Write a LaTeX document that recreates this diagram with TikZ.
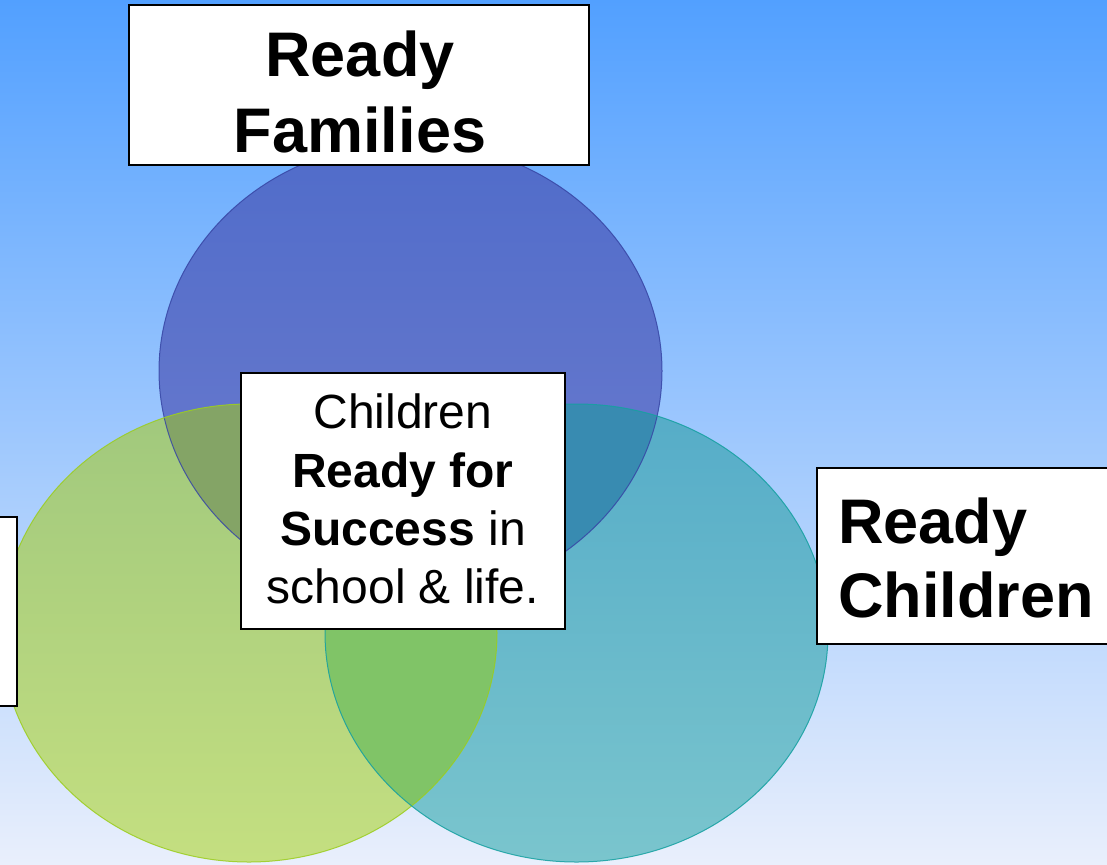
\documentclass[tikz,border=0pt]{standalone}
\usepackage{fontspec}
\setmainfont{Liberation Sans}
\definecolor{bgtop}{RGB}{82,160,255}
\definecolor{bgmid}{RGB}{165,198,255}
\definecolor{bgbot}{RGB}{233,239,252}
\definecolor{bluetop}{RGB}{80,108,202}
\definecolor{bluebot}{RGB}{110,124,205}
\definecolor{greentop}{RGB}{160,200,125}
\definecolor{greenbot}{RGB}{196,223,128}
\definecolor{tealtop}{RGB}{85,172,200}
\definecolor{tealbot}{RGB}{122,197,205}
\definecolor{ovBG}{RGB}{132,164,102}
\definecolor{ovBT}{RGB}{56,139,177}
\definecolor{ovGT}{RGB}{128,196,103}
\definecolor{ovBGT}{RGB}{90,150,110}
\definecolor{blueedge}{RGB}{55,70,165}
\definecolor{greenedge}{RGB}{155,205,30}
\definecolor{tealedge}{RGB}{20,160,160}
\tikzset{
  ellB/.style={insert path={(410.5,371) ellipse [x radius=251.5pt, y radius=229pt]}},
  ellG/.style={insert path={(249,633) ellipse [x radius=248pt, y radius=229pt]}},
  ellT/.style={insert path={(576.5,633) ellipse [x radius=251.5pt, y radius=229pt]}},
  box/.style={draw=black, line width=2pt, fill=white, inner sep=0pt},
  bigtext/.style={inner sep=0pt, font=\fontsize{63}{75}\selectfont\bfseries},
  midtext/.style={inner sep=0pt, anchor=base, font=\fontsize{48}{56}\selectfont},
  edge/.style={line width=1pt, draw opacity=0.85}
}
\begin{document}
\begin{tikzpicture}[x=1pt,y=-1pt]
\useasboundingbox (0,0) rectangle (1107,864);
\clip (0,0) rectangle (1107,864);
\shade[top color=bgtop, middle color=bgmid, bottom color=bgbot] (0,0) rectangle (1107,864);
% circles
\shade[top color=bluetop, bottom color=bluebot, ellB];
\shade[top color=greentop, bottom color=greenbot, ellG];
\shade[top color=tealtop, bottom color=tealbot, ellT];
\begin{scope}
  \clip[ellB];
  \fill[ovBG, ellG];
  \fill[ovBT, ellT];
  \clip[ellG];
  \fill[ovBGT, ellT];
\end{scope}
\begin{scope}
  \clip[ellG];
  \begin{scope}
    \clip[ellT];
    \fill[ovGT] (0,0) rectangle (1107,864);
    \clip[ellB];
    \fill[ovBGT] (0,0) rectangle (1107,864);
  \end{scope}
\end{scope}
\draw[edge, blueedge, ellB];
\draw[edge, greenedge, ellG];
\draw[edge, tealedge, ellT];
% boxes
\node[box, minimum width=460pt, minimum height=160pt] (famBox) at (359,85) {};
\node[bigtext, anchor=base] (famA) at (360,77) {Ready};
\node[bigtext, anchor=base] (famB) at (360,152) {Families};
\node[box, minimum width=400pt, minimum height=189pt] (comBox) at (-183,611.5) {};
\node[box, minimum width=400pt, minimum height=176pt] (chBox) at (1017,556) {};
\node[bigtext, anchor=base west] (chA) at (838,543) {Ready};
\node[bigtext, anchor=base west] (chB) at (838,617) {Children};
\node[box, minimum width=324pt, minimum height=256pt] (ctrBox) at (403,501) {};
\node[midtext] (ctrA) at (403,428) {Children};
\node[midtext] (ctrB) at (403,487) {\textbf{Ready for}};
\node[midtext] (ctrC) at (403,545.5) {\textbf{Success} in};
\node[midtext] (ctrD) at (403,603) {school \& life.};
\end{tikzpicture}
\end{document}
